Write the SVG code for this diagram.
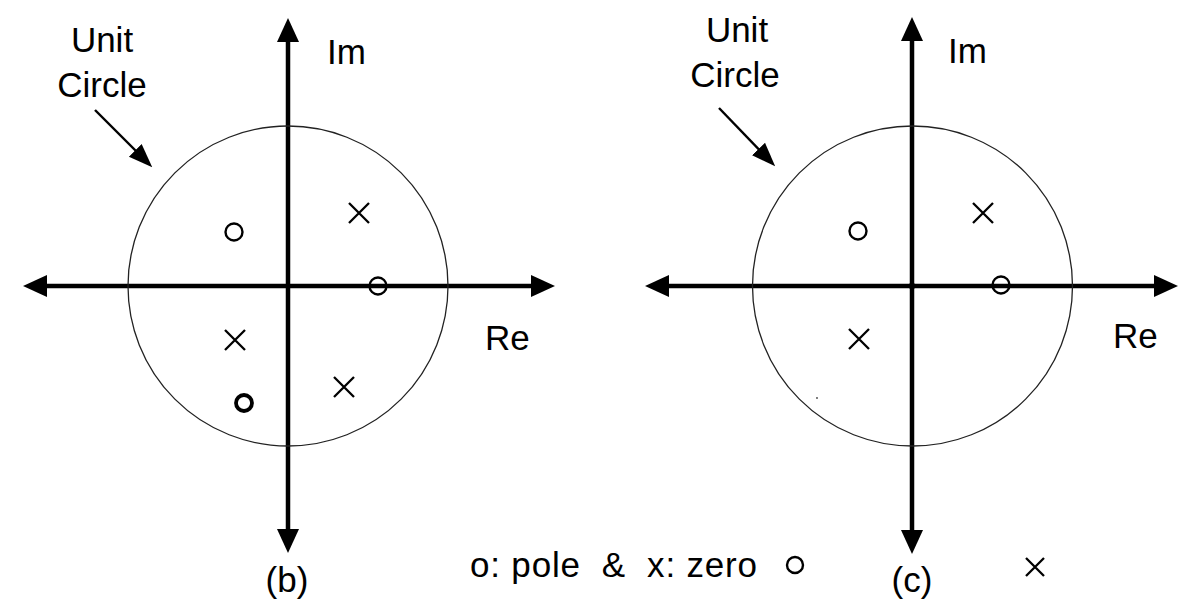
<svg xmlns="http://www.w3.org/2000/svg" width="1196" height="609" viewBox="0 0 1196 609">
<style>
  .bg{fill:#fff}
  .axis{stroke:#000;stroke-width:4.5;fill:none;marker-start:url(#ah);marker-end:url(#ah)}
  .uc{stroke:#222;stroke-width:1.3;fill:none}
  .ptr{stroke:#000;stroke-width:2.4;fill:none;marker-end:url(#ph)}
  .pole{stroke:#000;stroke-width:2.4;fill:none}
  .poleb{stroke:#000;stroke-width:3.8;fill:none}
  .zero{stroke:#000;stroke-width:2.3;fill:none}
  .t{font-family:"Liberation Sans",Arial,sans-serif;font-size:35px;fill:#000}
  .m{text-anchor:middle}
</style>
<defs>
  <marker id="ah" markerUnits="userSpaceOnUse" markerWidth="24" markerHeight="24" viewBox="0 0 24 24" refX="10" refY="12" orient="auto-start-reverse">
    <path d="M0,1 L24,12 L0,23 z" fill="#000"/>
  </marker>
  <marker id="ph" markerUnits="userSpaceOnUse" markerWidth="24" markerHeight="20" viewBox="0 0 24 20" refX="18" refY="10" orient="auto">
    <path d="M0,1 L24,10 L0,19 z" fill="#000"/>
  </marker>
</defs>
<rect class="bg" width="1196" height="609"/>

<g id="connectors">
  <line class="axis" x1="37" y1="286" x2="541" y2="286"/>
  <line class="axis" x1="288" y1="539" x2="288" y2="32"/>
  <line class="ptr" x1="95" y1="110" x2="148" y2="163"/>
  <line class="axis" x1="659" y1="286" x2="1164" y2="286"/>
  <line class="axis" x1="912" y1="540" x2="912" y2="31"/>
  <line class="ptr" x1="719" y1="108" x2="771" y2="162"/>
</g>

<g id="diagram-b">
  <circle id="unit-circle-b" class="uc" cx="288" cy="286" r="160"/>
  <g id="label-unit-circle-b">
    <text class="t m" x="102" y="52">Unit</text>
    <text class="t m" x="102" y="97">Circle</text>
  </g>
  <text id="im-b" class="t" x="327" y="64">Im</text>
  <text id="re-b" class="t" x="485" y="350">Re</text>
  <text id="cap-b" class="t m" x="287" y="592">(b)</text>
  <g id="poles-b">
    <circle class="pole" cx="234" cy="232" r="8.5"/>
    <circle class="pole" cx="378" cy="286" r="8.5"/>
    <circle class="poleb" cx="244" cy="403" r="8"/>
  </g>
  <g id="zeros-b">
    <path class="zero" d="M349,203 L369,223 M369,203 L349,223"/>
    <path class="zero" d="M225,330 L245,350 M245,330 L225,350"/>
    <path class="zero" d="M334,377 L354,397 M354,377 L334,397"/>
  </g>
</g>

<g id="diagram-c">
  <circle id="unit-circle-c" class="uc" cx="912.5" cy="286" r="160"/>
  <circle cx="912" cy="286" r="3.2" fill="#000"/>
  <circle cx="817" cy="398" r="0.9" fill="#444"/>
  <g id="label-unit-circle-c">
    <text class="t m" x="737" y="42">Unit</text>
    <text class="t m" x="735" y="87">Circle</text>
  </g>
  <text id="im-c" class="t" x="948" y="63">Im</text>
  <text id="re-c" class="t" x="1113" y="348">Re</text>
  <text id="cap-c" class="t m" x="912" y="592">(c)</text>
  <g id="poles-c">
    <circle class="pole" cx="858" cy="231" r="8.5"/>
    <circle class="pole" cx="1001" cy="285" r="8.5"/>
    <circle class="pole" cx="795" cy="565" r="8"/>
  </g>
  <g id="zeros-c">
    <path class="zero" d="M973,203 L993,223 M993,203 L973,223"/>
    <path class="zero" d="M849,329 L869,349 M869,329 L849,349"/>
    <path class="zero" d="M1026,558 L1044,576 M1044,558 L1026,576"/>
  </g>
</g>

<g id="legend">
  <text class="t" x="470" y="577" textLength="287" lengthAdjust="spacing" xml:space="preserve">o: pole  &amp;  x: zero</text>
</g>
</svg>
